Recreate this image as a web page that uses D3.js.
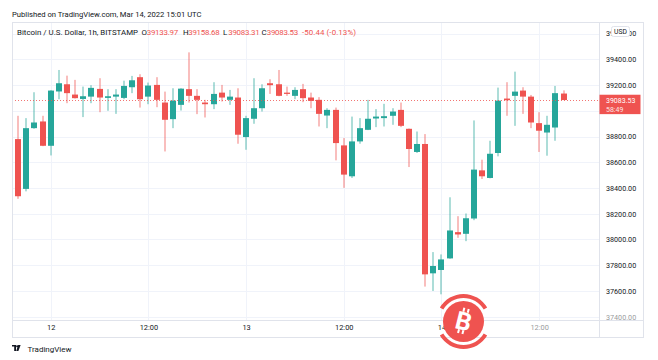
<!DOCTYPE html>
<html>
<head>
<meta charset="utf-8">
<script src="https://cdn.jsdelivr.net/npm/d3@7"></script>
<style>
  html, body { margin: 0; padding: 0; background: #ffffff; }
  svg { display: block; }
  text { font-family: Roboto, "Liberation Sans", sans-serif; }
</style>
</head>
<body>
<svg id="chart" width="658" height="360"></svg>
<script>
// ---- data (1h candles, BTC/USD Bitstamp, Mar 11 19:00 UTC -> Mar 14 15:00 UTC) ----
const firstCandleUTC = Date.UTC(2022, 2, 11, 19);
const open  = [38620,38780,38393,38865,38917,38728,39150,39206,39126,39092,39110,39170,39100,39110,39100,39183,39261,39110,39201,39064,38935,39046,39168,39116,39064,39051,39141,39085,39103,38796,38938,39020,39214,39206,39141,39116,39168,39103,39085,38963,39007,38731,38491,38762,38852,38940,38943,38961,39007,38860,38680,38742,37737,37763,37853,38057,38044,38163,38537,38478,38672,39095,39116,39157,39110,38904,38831,38870,39133.97];
const high  = [38790,38961,38943,39144,38961,39160,39317,39273,39240,39188,39199,39253,39168,39168,39234,39271,39284,39219,39261,39149,39175,39175,39454,39168,39085,39222,39201,39162,39175,38961,39253,39206,39245,39317,39188,39183,39209,39141,39106,39020,39025,38788,38955,38943,39085,39013,39054,39020,39064,38862,38839,38819,37902,37884,38328,38181,38202,38925,38620,38767,39180,39222,39304,39183,39123,38989,38961,39193,39158.68];
const low   = [38600,38316,38374,38860,38725,38653,39090,39059,39095,38951,39059,38989,39000,38976,39090,39137,39025,39051,39028,38684,38865,39002,39064,38974,38948,39013,39072,39046,38744,38697,38899,38994,39131,39113,39116,39090,39067,39020,38878,38865,38615,38401,38478,38744,38850,38873,38878,38891,38873,38563,38672,37634,37600,37574,37850,38013,37987,38150,38470,38475,38646,38961,38883,38976,38865,38680,38651,38767,39083.31];
const close = [38780,38336,38865,38909,38728,39157,39214,39137,39098,39113,39178,39103,39113,39126,39193,39237,39090,39196,39085,38930,39079,39172,39116,39085,39051,39131,39103,39110,38814,38943,39020,39175,39199,39116,39131,39162,39098,39077,38976,39007,38749,38504,38762,38865,38938,38955,38958,38994,38883,38703,38742,37729,37794,37845,38070,38039,38165,38543,38491,38666,39079,39082,39149,39110,38909,38845,38891,39137,39083.53];

const priceTicks = [37400,37600,37800,38000,38200,38400,38600,38800,39000,39200,39400,39600];
const timeTicks  = [Date.UTC(2022,2,12,0), Date.UTC(2022,2,12,12), Date.UTC(2022,2,13,0),
                    Date.UTC(2022,2,13,12), Date.UTC(2022,2,14,0), Date.UTC(2022,2,14,12)];
const lastPrice = 39083.53;
const countdown = "58:49";
const titleText = "Published on TradingView.com, Mar 14, 2022 15:01 UTC";
const symbolText = "Bitcoin / U.S. Dollar, 1h, BITSTAMP";
const ohlcLabels = [["O","39133.97"],["H","39158.68"],["L","39083.31"],["C","39083.53"]];
const changeText = "-50.44 (-0.13%)";

// ---- layout ----
const UP = "#26a69a", DOWN = "#ef5350", TXT = "#131722", GRID = "#f0f3fa", BORDER = "#e0e3eb";
const plot = {left: 12, right: 599, top: 22, bottom: 320};
const frame = {right: 643, bottom: 337};

const svg = d3.select("#chart");
svg.append("rect").attr("width", 658).attr("height", 360).attr("fill", "#fff");

const candles = open.map((o, i) => ({
  t: new Date(firstCandleUTC + i * 3600000), o, h: high[i], l: low[i], c: close[i]
}));

const x = d3.scaleUtc()
  .domain([new Date(timeTicks[0]), new Date(timeTicks[5])])
  .range([50.7, 539.1]);
const y = d3.scaleLinear().domain([37400, 39400]).range([316.7, 59.3]);

// grid
const g = svg.append("g");
g.selectAll("line.hg").data(priceTicks).join("line")
  .attr("x1", plot.left).attr("x2", plot.right)
  .attr("y1", d => Math.round(y(d)) + 0.5).attr("y2", d => Math.round(y(d)) + 0.5)
  .attr("stroke", GRID).attr("stroke-width", 1);
g.selectAll("line.vg").data(timeTicks).join("line")
  .attr("x1", d => Math.round(x(new Date(d))) + 0.5).attr("x2", d => Math.round(x(new Date(d))) + 0.5)
  .attr("y1", plot.top).attr("y2", plot.bottom)
  .attr("stroke", GRID).attr("stroke-width", 1);

// clip
svg.append("clipPath").attr("id", "clip").append("rect")
  .attr("x", plot.left + 0.5).attr("y", plot.top).attr("width", plot.right - plot.left - 0.5).attr("height", plot.bottom - plot.top);

const cg = svg.append("g").attr("clip-path", "url(#clip)");
const bw = 6;
const cs = cg.selectAll("g.c").data(candles).join("g");
cs.append("rect")
  .attr("x", d => Math.round(x(d.t) - bw / 2) + bw / 2 - 0.5)
  .attr("width", 1)
  .attr("y", d => y(d.h))
  .attr("height", d => Math.max(0.5, y(d.l) - y(d.h)))
  .attr("fill", d => d.c >= d.o ? UP : DOWN)
  .attr("opacity", 0.75);
cs.append("rect")
  .attr("x", d => Math.round(x(d.t) - bw / 2))
  .attr("width", bw)
  .attr("y", d => y(Math.max(d.o, d.c)))
  .attr("height", d => Math.max(1, Math.abs(y(d.o) - y(d.c))))
  .attr("fill", d => d.c >= d.o ? UP : DOWN);

// last price dotted line
svg.append("line")
  .attr("x1", plot.left).attr("x2", plot.right)
  .attr("y1", Math.round(y(lastPrice)) + 0.5).attr("y2", Math.round(y(lastPrice)) + 0.5)
  .attr("stroke", DOWN).attr("stroke-width", 1).attr("stroke-dasharray", "1,2").attr("opacity", 0.8);

// frame borders
const b = svg.append("g").attr("stroke", BORDER).attr("stroke-width", 1).attr("fill", "none");
b.append("rect").attr("x", plot.left + 0.5).attr("y", plot.top + 0.5)
  .attr("width", frame.right - plot.left).attr("height", frame.bottom - plot.top);
b.append("line").attr("x1", plot.right + 0.5).attr("x2", plot.right + 0.5).attr("y1", plot.top).attr("y2", frame.bottom);
b.append("line").attr("x1", plot.left).attr("x2", frame.right).attr("y1", plot.bottom + 0.5).attr("y2", plot.bottom + 0.5);

// price axis (the tick hidden by the last-price label is not shown, as in the reference)
const shownTicks = priceTicks.filter(d => Math.abs(y(d) - (y(lastPrice) + 4)) > 12);
const yAxis = d3.axisRight(y).tickValues(shownTicks).tickFormat(d3.format(".2f")).tickSize(0).tickPadding(0);
const ya = svg.append("g").attr("transform", `translate(${plot.right + 7},0)`).call(yAxis);
ya.select(".domain").remove();
ya.selectAll("text").attr("font-size", 7.2).attr("fill", TXT).attr("font-family", "Roboto, sans-serif")
  .attr("opacity", d => d === 37400 ? 0.45 : 1);

// USD badge
svg.append("rect").attr("x", 611.5).attr("y", 26.5).attr("width", 18).attr("height", 10).attr("rx", 2)
  .attr("fill", "#fff").attr("stroke", BORDER);
svg.append("text").attr("x", 620.5).attr("y", 34.2).attr("text-anchor", "middle")
  .attr("font-size", 6.8).attr("fill", TXT).text("USD");

// last price label
svg.append("rect").attr("x", plot.right + 0.5).attr("y", y(lastPrice) - 5.3).attr("width", 41).attr("height", 19.4).attr("fill", DOWN);
svg.append("text").attr("x", 606).attr("y", y(lastPrice) + 2.8).attr("font-size", 7).attr("fill", "#fff").text(d3.format(".2f")(lastPrice));
svg.append("text").attr("x", 606).attr("y", y(lastPrice) + 11.8).attr("font-size", 7).attr("fill", "#fff").attr("opacity", 0.85).text(countdown);

// time axis
const xAxis = d3.axisBottom(x).tickValues(timeTicks.map(d => new Date(d))).tickSize(0).tickPadding(0)
  .tickFormat(d => d.getUTCHours() === 0 ? String(d.getUTCDate()) : "12:00");
const xa = svg.append("g").attr("transform", `translate(0,${plot.bottom + 5})`).call(xAxis);
xa.select(".domain").remove();
xa.selectAll("text").attr("font-size", 7.4).attr("fill", TXT).attr("font-family", "Roboto, sans-serif")
  .attr("opacity", (d, i) => i === 5 ? 0.45 : 1);

// title
svg.append("text").attr("x", 12).attr("y", 16.5).attr("font-size", 7.65).attr("fill", TXT).text(titleText);

// legend
const legendY = 35;
svg.append("text").attr("x", 17).attr("y", legendY).attr("font-size", 7.9).attr("fill", TXT)
  .attr("textLength", 121).attr("lengthAdjust", "spacing").text(symbolText);
const legendKeyX = [141.5, 183, 223, 261.5];
ohlcLabels.forEach(([k, v], i) => {
  svg.append("text").attr("x", legendKeyX[i]).attr("y", legendY).attr("font-size", 7.9).attr("fill", TXT).text(k);
  svg.append("text").attr("x", legendKeyX[i] + 5.2).attr("y", legendY).attr("font-size", 7.9).attr("fill", DOWN)
    .attr("textLength", 31.5).attr("lengthAdjust", "spacing").text(v);
});
svg.append("text").attr("x", 302).attr("y", legendY).attr("font-size", 7.9).attr("fill", DOWN)
  .attr("textLength", 54).attr("lengthAdjust", "spacing").text(changeText);

// TradingView footer
const tv = svg.append("g").attr("transform", "translate(12,345)").attr("fill", TXT);
tv.append("path").attr("d", "M0,0 H4 V6 H2.2 V1.6 H0 Z");
tv.append("circle").attr("cx", 5.2).attr("cy", 1.3).attr("r", 1.1);
tv.append("path").attr("d", "M6.2,0 H8.6 L6.4,6 H4.2 Z");
svg.append("text").attr("x", 27.5).attr("y", 351.5).attr("font-size", 8).attr("fill", TXT).text("TradingView");

// watermark logo
const wm = svg.append("g").attr("transform", "translate(463.5,321.5)");
const arc = d3.arc().innerRadius(23.5).outerRadius(27.5);
wm.append("path").attr("d", arc({startAngle: -Math.PI * 0.33, endAngle: Math.PI * 0.33})).attr("fill", DOWN);
wm.append("path").attr("d", arc({startAngle: Math.PI * 0.67, endAngle: Math.PI * 1.33})).attr("fill", DOWN);
wm.append("circle").attr("r", 20.5).attr("fill", DOWN);
const bt = wm.append("g").attr("transform", "rotate(14)").attr("fill", "#fff");
bt.append("text").attr("x", 0).attr("y", 8.5).attr("text-anchor", "middle")
  .attr("font-size", 25).attr("font-weight", "bold").attr("font-family", "'DejaVu Sans', sans-serif").text("B");
bt.append("rect").attr("x", -3.5).attr("y", -13.5).attr("width", 2).attr("height", 4);
bt.append("rect").attr("x", 1).attr("y", -13.5).attr("width", 2).attr("height", 4);
bt.append("rect").attr("x", -3.5).attr("y", 8.5).attr("width", 2).attr("height", 4);
bt.append("rect").attr("x", 1).attr("y", 8.5).attr("width", 2).attr("height", 4);
</script>
</body>
</html>
